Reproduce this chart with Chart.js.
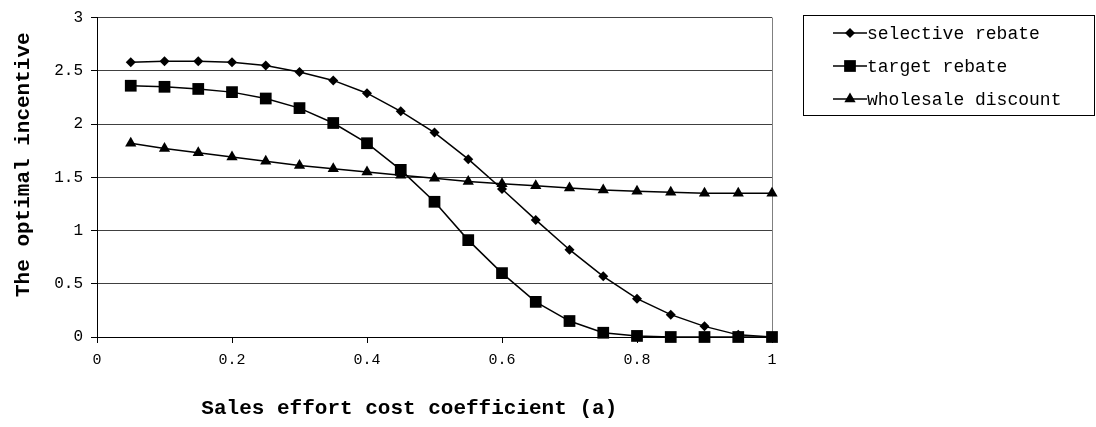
<!DOCTYPE html>
<html>
<head>
<meta charset="utf-8">
<script src="https://cdn.jsdelivr.net/npm/chart.js@4/dist/chart.umd.min.js"></script>
<style>
  html, body { margin: 0; padding: 0; background: #fff; }
  #wrap { width: 1096px; height: 427px; }
</style>
</head>
<body>
<div id="wrap"><canvas id="chart"></canvas></div>
<script>
// sales effort cost coefficient (a)
const aValues = [0.05, 0.1, 0.15, 0.2, 0.25, 0.3, 0.35, 0.4, 0.45, 0.5,
                 0.55, 0.6, 0.65, 0.7, 0.75, 0.8, 0.85, 0.9, 0.95, 1.0];

const selectiveRebate = [2.58, 2.59, 2.59, 2.58, 2.55, 2.49, 2.41, 2.29, 2.12, 1.92,
                         1.67, 1.39, 1.10, 0.82, 0.57, 0.36, 0.21, 0.10, 0.02, 0.00];
const targetRebate = [2.36, 2.35, 2.33, 2.30, 2.24, 2.15, 2.01, 1.82, 1.57, 1.27,
                      0.91, 0.60, 0.33, 0.15, 0.04, 0.01, 0.00, 0.00, 0.00, 0.00];
const wholesaleDiscount = [1.82, 1.77, 1.73, 1.69, 1.65, 1.61, 1.58, 1.55, 1.52, 1.49,
                           1.46, 1.44, 1.42, 1.40, 1.38, 1.37, 1.36, 1.35, 1.35, 1.35];

const seriesNames = ['selective rebate', 'target rebate', 'wholesale discount'];
const xTickLabels = ['0', '0.2', '0.4', '0.6', '0.8', '1'];
const yTickLabels = ['0', '0.5', '1', '1.5', '2', '2.5', '3'];

const FONT = '"Liberation Mono", "DejaVu Sans Mono", monospace';

function toPoints(ys) {
  return ys.map((y, i) => ({ x: aValues[i], y: y }));
}

// legend drawn in a framed box to the right of the plot
const boxLegend = {
  id: 'boxLegend',
  afterDraw(chart) {
    const ctx = chart.ctx;
    const bx = 803.5, by = 15.5, bw = 291, bh = 100;
    ctx.save();
    ctx.strokeStyle = '#000';
    ctx.lineWidth = 1;
    ctx.strokeRect(bx, by, bw, bh);
    ctx.font = '18px ' + FONT;
    ctx.textBaseline = 'middle';
    chart.data.datasets.forEach((ds, i) => {
      const y = 33 + i * 33;
      ctx.beginPath();
      ctx.moveTo(833, y);
      ctx.lineTo(867, y);
      ctx.lineWidth = 1.5;
      ctx.strokeStyle = '#000';
      ctx.stroke();
      ctx.fillStyle = '#000';
      Chart.helpers.drawPoint(ctx, {
        pointStyle: ds.pointStyle,
        radius: ds.pointRadius,
        rotation: 0,
        borderWidth: 0
      }, 850, y);
      ctx.fillStyle = '#000';
      ctx.fillText(ds.label, 867, y + 1);
    });
    ctx.restore();
  }
};

new Chart(document.getElementById('chart'), {
  type: 'line',
  data: {
    datasets: [
      {
        label: seriesNames[0],
        data: toPoints(selectiveRebate),
        pointStyle: 'rectRot',
        pointRadius: 5
      },
      {
        label: seriesNames[1],
        data: toPoints(targetRebate),
        pointStyle: 'rect',
        pointRadius: 8.3
      },
      {
        label: seriesNames[2],
        data: toPoints(wholesaleDiscount),
        pointStyle: 'triangle',
        pointRadius: 6.5
      }
    ].map(ds => Object.assign(ds, {
      borderColor: '#000',
      backgroundColor: '#000',
      pointBackgroundColor: '#000',
      pointBorderColor: '#000',
      pointBorderWidth: 0,
      borderWidth: 1.5,
      tension: 0,
      clip: false
    }))
  },
  options: {
    responsive: true,
    maintainAspectRatio: false,
    animation: false,
    events: [],
    layout: { padding: { left: 0, right: 324, top: 16, bottom: 0 } },
    plugins: {
      legend: { display: false },
      tooltip: { enabled: false }
    },
    scales: {
      x: {
        type: 'linear',
        min: 0,
        max: 1,
        afterBuildTicks: scale => {
          scale.ticks = xTickLabels.map(v => ({ value: parseFloat(v) }));
        },
        afterFit: scale => { scale.height = 90; },
        ticks: {
          color: '#000',
          font: { family: FONT, size: 15 },
          padding: 8,
          maxRotation: 0,
          callback: (v, i) => xTickLabels[i]
        },
        grid: {
          drawOnChartArea: true,
          color: ctx => (ctx.tick && ctx.tick.value === 1 ? '#808080' : 'rgba(0,0,0,0)'),
          tickColor: '#000',
          tickLength: 6
        },
        border: { color: '#000', width: 1 },
        title: {
          display: true,
          text: 'Sales effort cost coefficient (a)    ',
          color: '#000',
          font: { family: FONT, size: 21, weight: 'bold' },
          padding: { top: 0, bottom: 6 }
        }
      },
      y: {
        min: 0,
        max: 3,
        afterBuildTicks: scale => {
          scale.ticks = yTickLabels.map(v => ({ value: parseFloat(v) }));
        },
        afterFit: scale => { scale.width = 97; },
        ticks: {
          color: '#000',
          font: { family: FONT, size: 16 },
          padding: 8,
          callback: (v, i) => yTickLabels[i]
        },
        grid: {
          color: '#404040',
          tickColor: '#000',
          tickLength: 6
        },
        border: { color: '#000', width: 1 },
        title: {
          display: true,
          text: '  The optimal incentive',
          color: '#000',
          font: { family: FONT, size: 21, weight: 'bold' },
          padding: { top: 11, bottom: 0 }
        }
      }
    }
  },
  plugins: [boxLegend]
});
</script>
</body>
</html>
